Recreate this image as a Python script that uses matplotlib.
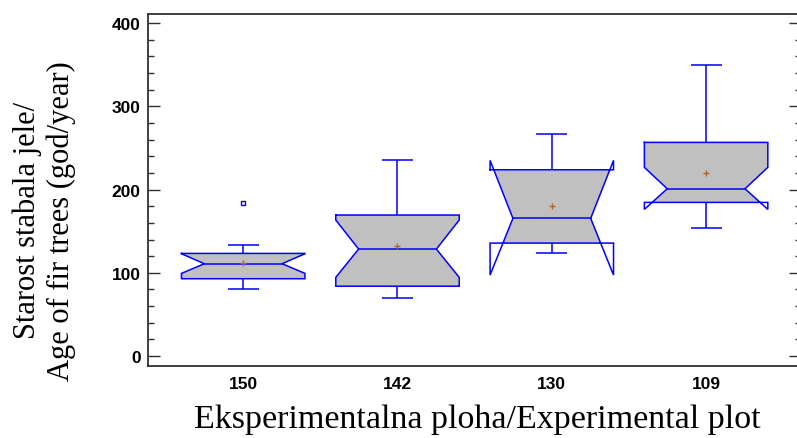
import matplotlib

matplotlib.use("Agg")
import matplotlib.pyplot as plt
from matplotlib.ticker import MultipleLocator

# Notched box-and-whisker summary per experimental plot
PLOTS = ["150", "142", "130", "109"]
Q1 = [92.9, 83.9, 135.7, 184.6]
MEDIAN = [110.9, 128.5, 165.4, 201.0]
Q3 = [123.3, 169.4, 223.8, 256.7]
NOTCH_LO = [99.3, 94.5, 97.3, 176.2]
NOTCH_HI = [122.9, 163.4, 235.1, 226.7]
WHISKER_LO = [80.9, 69.7, 123.3, 154.1]
WHISKER_HI = [133.7, 235.1, 267.1, 349.5]
MEAN = [111.7, 132.1, 179.8, 219.4]
OUTLIERS = [[183.4], [], [], []]

BLUE = "#0000ff"
GREY = "#c0c0c0"
HALF = 0.40      # half box width (data units)
WAIST = 0.252    # half width at the median notch
CAP = 0.10       # half whisker cap width


def half_width(y, med, nlo, nhi):
    if nlo <= y <= nhi:
        if y >= med:
            t = (y - med) / (nhi - med)
        else:
            t = (med - y) / (med - nlo)
        return WAIST + (HALF - WAIST) * t
    return HALF


def draw_box(ax, c, q1, med, q3, nlo, nhi, wlo, whi, mean, outl):
    # grey fill: the box clipped to the notch hourglass
    ys = sorted({q1, q3} | {v for v in (nlo, med, nhi) if q1 < v < q3})
    right = [(c + half_width(y, med, nlo, nhi), y) for y in ys]
    left = [(c - half_width(y, med, nlo, nhi), y) for y in reversed(ys)]
    ax.add_patch(plt.Polygon(right + left, closed=True, facecolor=GREY,
                             edgecolor="none", zorder=2))

    L, R = c - HALF, c + HALF
    outline = [(L, q3), (L, nhi), (c - WAIST, med), (L, nlo), (L, q1),
               (R, q1), (R, nlo), (c + WAIST, med), (R, nhi), (R, q3), (L, q3)]
    ax.plot([p[0] for p in outline], [p[1] for p in outline], color=BLUE,
            lw=1.1, zorder=3, solid_joinstyle="miter")
    ax.plot([c - WAIST, c + WAIST], [med, med], color=BLUE, lw=1.1, zorder=3)

    ax.vlines(c, q3, whi, color=BLUE, lw=1.1, zorder=3)
    ax.vlines(c, wlo, q1, color=BLUE, lw=1.1, zorder=3)
    ax.hlines([wlo, whi], c - CAP, c + CAP, color=BLUE, lw=1.1, zorder=3)

    ax.plot(c, mean, marker="+", color="#b5651d", ms=5, mew=1.0, zorder=4)
    for v in outl:
        ax.plot(c, v, marker="s", ms=3.5, mfc="white", mec=BLUE, mew=1.0, zorder=4)


def main() -> None:
    fig = plt.figure(figsize=(7.97, 4.39), dpi=100)
    ax = fig.add_axes([148.3 / 797, 72 / 439, 652.7 / 797, 352 / 439])

    for i, name in enumerate(PLOTS):
        draw_box(ax, i + 1, Q1[i], MEDIAN[i], Q3[i], NOTCH_LO[i], NOTCH_HI[i],
                 WHISKER_LO[i], WHISKER_HI[i], MEAN[i], OUTLIERS[i])

    ax.set_xlim(0.385, 4.615)
    ax.set_ylim(-12, 411)
    ax.set_xticks(range(1, len(PLOTS) + 1), PLOTS)
    ax.yaxis.set_major_locator(MultipleLocator(100))
    ax.yaxis.set_minor_locator(MultipleLocator(20))

    ax.tick_params(axis="y", which="both", direction="in", left=True, right=True,
                   width=1.0, color="#303030")
    ax.tick_params(axis="y", which="major", length=8.6, pad=5.5)
    ax.tick_params(axis="y", which="minor", length=4.3)
    ax.tick_params(axis="x", length=0, pad=7)
    for lab in ax.get_xticklabels() + ax.get_yticklabels():
        lab.set_fontfamily("Liberation Sans")
        lab.set_fontweight("bold")
        lab.set_fontsize(12.5)

    for sp in ax.spines.values():
        sp.set_color("#303030")
        sp.set_linewidth(1.3)

    fig.text(44 / 797, 0.497, "Starost stabala jele/\nAge of fir trees (god/year)",
             rotation=90, ha="center", va="center", multialignment="center",
             family="Liberation Serif", fontsize=22, linespacing=1.2)
    fig.text(477.5 / 797, 11 / 439, "Eksperimentalna ploha/Experimental plot",
             ha="center", va="baseline", family="Liberation Serif", fontsize=24.5)

    fig.savefig("out.png", dpi=100)


if __name__ == "__main__":
    main()
